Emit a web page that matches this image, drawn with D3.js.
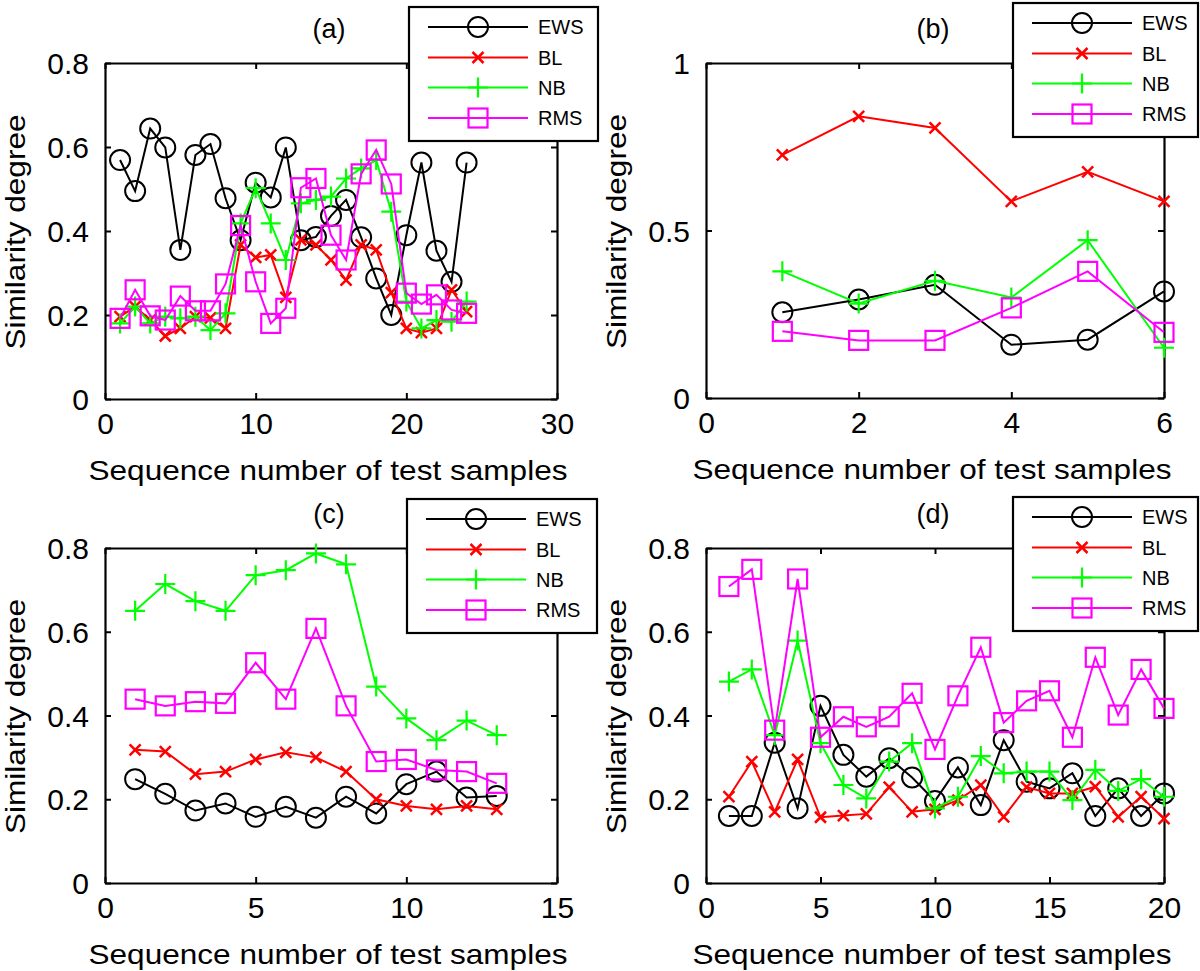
<!DOCTYPE html>
<html><head><meta charset="utf-8">
<script src="https://cdn.jsdelivr.net/npm/d3@7"></script>
<style>
body{margin:0;background:#fff}
text{font-family:"Liberation Sans",Arial,Helvetica,sans-serif;fill:#000}
</style>
</head><body>
<svg id="chart" width="1200" height="971"></svg>
<script>
// ---------- data ----------
const seriesNames = ["EWS", "BL", "NB", "RMS"];
const seriesColors = ["#000000", "#ff0000", "#00ff00", "#ff00ff"];
const seriesMarkers = ["circle", "x", "plus", "square"];

const xLabel = "Sequence number of test samples";
const yLabel = "Similarity degree";

// panel (a)
const aSamples = [1,2,3,4,5,6,7,8,9,10,11,12,13,14,15,16,17,18,19,20,21,22,23,24];
const aEWS = [0.569,0.495,0.644,0.599,0.355,0.581,0.607,0.478,0.378,0.515,0.480,0.599,0.378,0.386,0.436,0.474,0.385,0.287,0.200,0.390,0.563,0.353,0.279,0.563];
const aBL  = [0.196,0.220,0.188,0.150,0.168,0.196,0.193,0.168,0.367,0.337,0.343,0.242,0.379,0.367,0.331,0.283,0.367,0.355,0.253,0.168,0.158,0.168,0.260,0.208];
const aNB  = [0.180,0.220,0.180,0.196,0.192,0.196,0.164,0.204,0.418,0.502,0.418,0.331,0.466,0.474,0.482,0.525,0.549,0.569,0.446,0.232,0.168,0.188,0.184,0.232];
const aRMS = [0.192,0.260,0.198,0.188,0.245,0.210,0.210,0.274,0.413,0.279,0.180,0.216,0.503,0.525,0.390,0.331,0.536,0.593,0.512,0.252,0.226,0.248,0.212,0.204];
const aXTicks = [0, 10, 20, 30];
const aYTicks = [0, 0.2, 0.4, 0.6, 0.8];

// panel (b)
const bSamples = [1,2,3,4,5,6];
const bEWS = [0.256,0.294,0.338,0.159,0.174,0.318];
const bBL  = [0.726,0.841,0.806,0.587,0.675,0.587];
const bNB  = [0.378,0.282,0.350,0.300,0.471,0.150];
const bRMS = [0.199,0.172,0.172,0.269,0.378,0.196];
const bXTicks = [0, 2, 4, 6];
const bYTicks = [0, 0.5, 1];

// panel (c)
const cSamples = [1,2,3,4,5,6,7,8,9,10,11,12,13];
const cEWS = [0.248,0.213,0.173,0.190,0.158,0.182,0.156,0.206,0.166,0.236,0.266,0.204,0.208];
const cBL  = [0.318,0.314,0.260,0.266,0.295,0.312,0.300,0.266,0.200,0.184,0.176,0.184,0.176];
const cNB  = [0.650,0.714,0.673,0.650,0.735,0.747,0.787,0.761,0.469,0.393,0.341,0.388,0.353];
const cRMS = [0.439,0.423,0.433,0.429,0.526,0.439,0.608,0.423,0.290,0.295,0.270,0.266,0.238];
const cXTicks = [0, 5, 10, 15];
const cYTicks = [0, 0.2, 0.4, 0.6, 0.8];

// panel (d)
const dSamples = [1,2,3,4,5,6,7,8,9,10,11,12,13,14,15,16,17,18,19,20];
const dEWS = [0.160,0.160,0.335,0.178,0.423,0.306,0.254,0.298,0.252,0.196,0.276,0.186,0.341,0.242,0.226,0.262,0.160,0.226,0.160,0.214];
const dBL  = [0.206,0.290,0.170,0.295,0.157,0.161,0.165,0.229,0.170,0.176,0.198,0.234,0.158,0.229,0.214,0.214,0.230,0.158,0.206,0.154];
const dNB  = [0.481,0.510,0.353,0.579,0.334,0.234,0.202,0.290,0.334,0.178,0.206,0.303,0.262,0.266,0.266,0.198,0.270,0.220,0.248,0.206];
const dRMS = [0.708,0.749,0.365,0.726,0.348,0.397,0.373,0.397,0.453,0.319,0.447,0.563,0.383,0.435,0.459,0.348,0.539,0.401,0.510,0.417];
const dXTicks = [0, 5, 10, 15, 20];
const dYTicks = [0, 0.2, 0.4, 0.6, 0.8];

// ---------- layout ----------
const panels = [
  {title:"(a)", samples:aSamples, series:[aEWS,aBL,aNB,aRMS], xDomain:[0,30], yDomain:[0,0.8], xTicks:aXTicks, yTicks:aYTicks,
   box:{l:105,r:557,t:63,b:399}, legend:{x:409,y:7,w:189,h:134}},
  {title:"(b)", samples:bSamples, series:[bEWS,bBL,bNB,bRMS], xDomain:[0,6], yDomain:[0,1], xTicks:bXTicks, yTicks:bYTicks,
   box:{l:706,r:1164,t:63,b:398}, legend:{x:1013,y:3,w:185,h:134}},
  {title:"(c)", samples:cSamples, series:[cEWS,cBL,cNB,cRMS], xDomain:[0,15], yDomain:[0,0.8], xTicks:cXTicks, yTicks:cYTicks,
   box:{l:105,r:557,t:548,b:883}, legend:{x:407,y:499,w:190,h:134}},
  {title:"(d)", samples:dSamples, series:[dEWS,dBL,dNB,dRMS], xDomain:[0,20], yDomain:[0,0.8], xTicks:dXTicks, yTicks:dYTicks,
   box:{l:706,r:1164,t:548,b:883}, legend:{x:1013,y:497,w:185,h:134}}
];

const svg = d3.select("#chart");
svg.append("rect").attr("width",1200).attr("height",971).attr("fill","#fff");

function drawMarker(g, type, cx, cy, color) {
  if (type === "circle") {
    g.append("circle").attr("cx",cx).attr("cy",cy).attr("r",10)
      .attr("fill","none").attr("stroke",color).attr("stroke-width",2);
  } else if (type === "x") {
    const s = 5.5;
    g.append("path").attr("d",`M${cx-s},${cy-s}L${cx+s},${cy+s}M${cx-s},${cy+s}L${cx+s},${cy-s}`)
      .attr("stroke",color).attr("stroke-width",2.5).attr("fill","none");
  } else if (type === "plus") {
    const s = 10;
    g.append("path").attr("d",`M${cx-s},${cy}L${cx+s},${cy}M${cx},${cy-s}L${cx},${cy+s}`)
      .attr("stroke",color).attr("stroke-width",2.2).attr("fill","none");
  } else if (type === "square") {
    const s = 9.5;
    g.append("rect").attr("x",cx-s).attr("y",cy-s).attr("width",2*s).attr("height",2*s)
      .attr("fill","none").attr("stroke",color).attr("stroke-width",2.2);
  }
}

const fmt = v => String(v);

panels.forEach(p => {
  const B = p.box;
  const x = d3.scaleLinear().domain(p.xDomain).range([B.l, B.r]);
  const y = d3.scaleLinear().domain(p.yDomain).range([B.b, B.t]);
  const g = svg.append("g");

  // axes (MATLAB style box with inward ticks)
  const tickLen = 6;
  const axB = d3.axisBottom(x).tickValues(p.xTicks).tickSizeInner(-tickLen).tickSizeOuter(0).tickPadding(14).tickFormat(fmt);
  const axT = d3.axisTop(x).tickValues(p.xTicks).tickSizeInner(-tickLen).tickSizeOuter(0).tickFormat("");
  const axL = d3.axisLeft(y).tickValues(p.yTicks).tickSizeInner(-tickLen).tickSizeOuter(0).tickPadding(16).tickFormat(fmt);
  const axR = d3.axisRight(y).tickValues(p.yTicks).tickSizeInner(-tickLen).tickSizeOuter(0).tickFormat("");

  const gB = g.append("g").attr("transform",`translate(0,${B.b})`).call(axB);
  const gT = g.append("g").attr("transform",`translate(0,${B.t})`).call(axT);
  const gL = g.append("g").attr("transform",`translate(${B.l},0)`).call(axL);
  const gR = g.append("g").attr("transform",`translate(${B.r},0)`).call(axR);
  [gB,gT,gL,gR].forEach(a => {
    a.select(".domain").attr("stroke","#000").attr("stroke-width",2.2);
    a.selectAll(".tick line").attr("stroke","#000").attr("stroke-width",2);
    a.selectAll(".tick text").attr("font-size",30).attr("fill","#000")
      .style("font-family","'Liberation Sans',Arial,sans-serif");
  });
  gB.selectAll(".tick text").attr("dy","0.71em");
  gL.selectAll(".tick text").attr("dy","0.35em");

  // axis titles
  g.append("text").attr("x",(B.l+B.r)/2 - 3).attr("y",B.b + 81)
    .attr("text-anchor","middle").attr("font-size",28)
    .attr("textLength",479).attr("lengthAdjust","spacingAndGlyphs")
    .text(xLabel);
  g.append("text")
    .attr("transform",`translate(${B.l-80},${(B.t+B.b)/2 + 1}) rotate(-90)`)
    .attr("text-anchor","middle").attr("font-size",27)
    .attr("textLength",235).attr("lengthAdjust","spacingAndGlyphs")
    .text(yLabel);

  // title
  g.append("text").attr("x",(B.l+B.r)/2 - 2).attr("y",B.t - 25)
    .attr("text-anchor","middle").attr("font-size",27).text(p.title);

  // series lines & markers
  p.series.forEach((vals, si) => {
    const pts = p.samples.map((s,i) => [s, vals[i]]);
    const line = d3.line().x(d => x(d[0])).y(d => y(d[1]));
    g.append("path").datum(pts).attr("d",line)
      .attr("fill","none").attr("stroke",seriesColors[si]).attr("stroke-width",2)
      .attr("stroke-linejoin","miter");
    const mg = g.append("g");
    pts.forEach(d => drawMarker(mg, seriesMarkers[si], x(d[0]), y(d[1]), seriesColors[si]));
  });

  // legend
  const L = p.legend;
  const lg = svg.append("g");
  lg.append("rect").attr("x",L.x).attr("y",L.y).attr("width",L.w).attr("height",L.h)
    .attr("fill","#fff").attr("stroke","#000").attr("stroke-width",2.2);
  const rowOffsets = [20, 50.5, 80.5, 111];
  seriesNames.forEach((name, si) => {
    const ry = L.y + rowOffsets[si];
    lg.append("line").attr("x1",L.x+19).attr("x2",L.x+119).attr("y1",ry).attr("y2",ry)
      .attr("stroke",seriesColors[si]).attr("stroke-width",2);
    drawMarker(lg, seriesMarkers[si], L.x+69, ry, seriesColors[si]);
    lg.append("text").attr("x",L.x+129).attr("y",ry).attr("dy","0.35em")
      .attr("font-size",20).text(name);
  });
});
</script>
</body></html>
